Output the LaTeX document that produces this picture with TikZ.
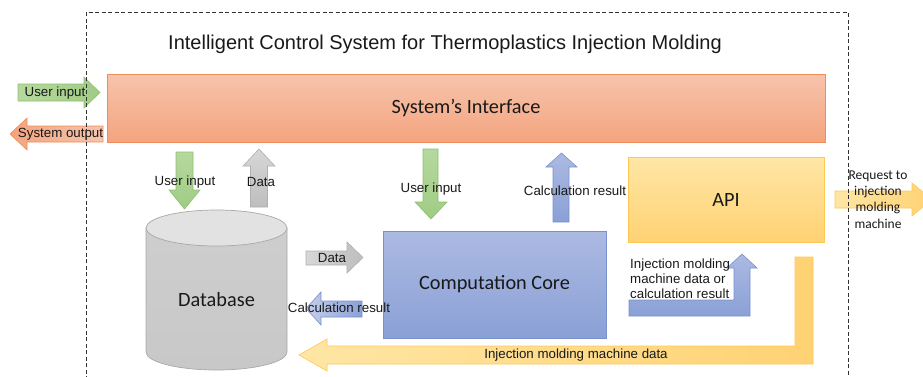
\documentclass[tikz,border=0pt]{standalone}
\usepackage{fontspec}
\setmainfont{Liberation Sans}
\newfontfamily\calibri{Carlito}

\definecolor{txt}{RGB}{25,25,25}
\definecolor{orTop}{RGB}{246,196,172}
\definecolor{orBot}{RGB}{244,164,126}
\definecolor{orLine}{RGB}{240,140,90}
\definecolor{blTop}{RGB}{172,186,226}
\definecolor{blBot}{RGB}{138,160,214}
\definecolor{blLine}{RGB}{120,145,205}
\definecolor{ylTop}{RGB}{255,230,165}
\definecolor{ylBot}{RGB}{255,210,115}
\definecolor{ylLine}{RGB}{255,200,85}
\definecolor{grA}{RGB}{182,216,158}
\definecolor{grB}{RGB}{160,204,132}
\definecolor{grLine}{RGB}{140,192,110}
\definecolor{gyA}{RGB}{215,215,215}
\definecolor{gyB}{RGB}{190,190,190}
\definecolor{gyLine}{RGB}{175,175,175}
\definecolor{dbSide}{RGB}{200,200,200}
\definecolor{dbTop}{RGB}{226,226,226}
\definecolor{dbLine}{RGB}{168,168,168}

\tikzset{
  bigtext/.style={font=\calibri\fontsize{20.3}{24}\selectfont, text=txt},
  smalltext/.style={font=\fontsize{13.3}{15}\selectfont, text=txt, inner sep=0pt},
  ifacebox/.style={draw=orLine, line width=0.9pt, top color=orTop, bottom color=orBot,
    minimum width=718pt, minimum height=68pt, inner sep=0pt, bigtext},
  corebox/.style={draw=blLine, line width=0.7pt, top color=blTop, bottom color=blBot,
    minimum width=223pt, minimum height=107pt, inner sep=0pt, bigtext},
  apibox/.style={draw=ylLine, line width=0.7pt, top color=ylTop, bottom color=ylBot,
    minimum width=196pt, minimum height=85pt, inner sep=0pt, bigtext},
  greenarrow/.style={draw=grLine, line width=0.6pt, top color=grA, bottom color=grB},
  greenharrow/.style={draw=grLine, line width=0.6pt, left color=grA, right color=grB},
  grayuparrow/.style={draw=gyLine, line width=0.6pt, top color=gyA, bottom color=gyB},
  grayharrow/.style={draw=gyLine, line width=0.6pt, left color=gyA, right color=gyB},
  blueuparrow/.style={draw=blLine, line width=0.6pt, top color=blTop, bottom color=blBot},
  blueharrow/.style={draw=blLine, line width=0.6pt, left color=blTop!70, right color=blBot},
  orangearrow/.style={draw=orLine, line width=0.6pt, left color=orBot, right color=orTop},
  yellowarrow/.style={draw=ylLine, line width=0.6pt, left color=ylTop, right color=ylBot},
  framestyle/.style={draw=black!80, line width=0.9pt, dash pattern=on 4pt off 2.5pt},
}

\begin{document}
\begin{tikzpicture}[x=1pt, y=-1pt]
\useasboundingbox (0,0) rectangle (923,376);
\clip (0,0) rectangle (923,376);

% title
\node[font=\fontsize{20}{24}\selectfont, text=txt] (title) at (445,44)
  {Intelligent Control System for Thermoplastics Injection Molding};

% main blocks
\node[ifacebox] (iface) at (466,108) {System’s Interface};
\node[corebox]  (core)  at (494.5,284.5) {Computation Core};
\node[apibox]   (api)   at (726,199.5) {API};

% database cylinder
\path[draw=dbLine, line width=0.7pt, top color=dbSide!90, bottom color=dbSide]
  (146,228) -- (146,352) arc[start angle=180, end angle=0, x radius=70.5, y radius=18]
  -- (287,228) -- cycle;
\path[draw=dbLine, line width=0.7pt, fill=dbTop] (216.5,228) ellipse [x radius=70.5, y radius=18];
\node[bigtext] (db) at (216.5,300) {Database};

% external input / output
\path[greenharrow] (18,84) -- (84,84) -- (84,77) -- (100,92.5) -- (84,108) -- (84,101) -- (18,101) -- cycle;
\node[smalltext] (uin) at (55,93) {User input};
\path[orangearrow] (103,126) -- (27,126) -- (27,118) -- (10,134) -- (27,150) -- (27,142) -- (103,142) -- cycle;
\node[smalltext] (sout) at (60.5,134) {System output};

% interface <-> database
\path[greenarrow] (176,152) -- (193,152) -- (193,190) -- (200,190) -- (184.5,209) -- (169,190) -- (176,190) -- cycle;
\node[smalltext] (uindb) at (185,182) {User input};
\path[grayuparrow] (250.5,207) -- (250.5,166) -- (243,166) -- (259,149) -- (275,166) -- (267.5,166) -- (267.5,207) -- cycle;
\node[smalltext] (datadb) at (261,182) {Data};

% interface <-> core
\path[greenarrow] (423,149) -- (438,149) -- (438,202) -- (447,202) -- (431,219) -- (415,202) -- (423,202) -- cycle;
\node[smalltext] (uincore) at (431,189) {User input};
\path[blueuparrow] (553,222) -- (553,167) -- (546,167) -- (561.5,153) -- (577,167) -- (569,167) -- (569,222) -- cycle;
\node[smalltext] (calcup) at (575,191) {Calculation result};

% database <-> core
\path[grayharrow] (306,251) -- (347,251) -- (347,242) -- (363,257.5) -- (347,273) -- (347,265) -- (306,265) -- cycle;
\node[smalltext] (datacore) at (332,258) {Data};
\path[blueharrow] (362,301) -- (321,301) -- (321,292) -- (306,308.5) -- (321,325) -- (321,317) -- (362,317) -- cycle;
\node[smalltext] (calcdb) at (339,307.5) {Calculation result};

% core -> API
\path[blueuparrow] (629,300) -- (734,300) -- (734,268) -- (727,268) -- (742,254) -- (757,268)
  -- (750,268) -- (750,316) -- (629,316) -- cycle;
\node[smalltext, anchor=west, align=left, font=\fontsize{13.3}{15}\selectfont] (imdata) at (630,279)
  {Injection molding\\machine data or\\calculation result};

% API -> database
\path[yellowarrow] (795,257) -- (813,257) -- (813,364) -- (327,364) -- (327,371) -- (299,355)
  -- (327,339) -- (327,346) -- (795,346) -- cycle;
\node[smalltext] (imback) at (576,355) {Injection molding machine data};

% API -> machine
\path[yellowarrow] (835,191) -- (912,191) -- (912,183) -- (932,199.5) -- (912,216) -- (912,208) -- (835,208) -- cycle;

% system boundary
\draw[framestyle] (86,380) -- (86,12) -- (848,12) -- (848,380);

\node[font=\calibri\fontsize{13.5}{16.3}\selectfont, text=txt, align=center, inner sep=0pt]
  (req) at (878,199.5) {Request to\\injection\\molding\\machine};
\end{tikzpicture}
\end{document}
